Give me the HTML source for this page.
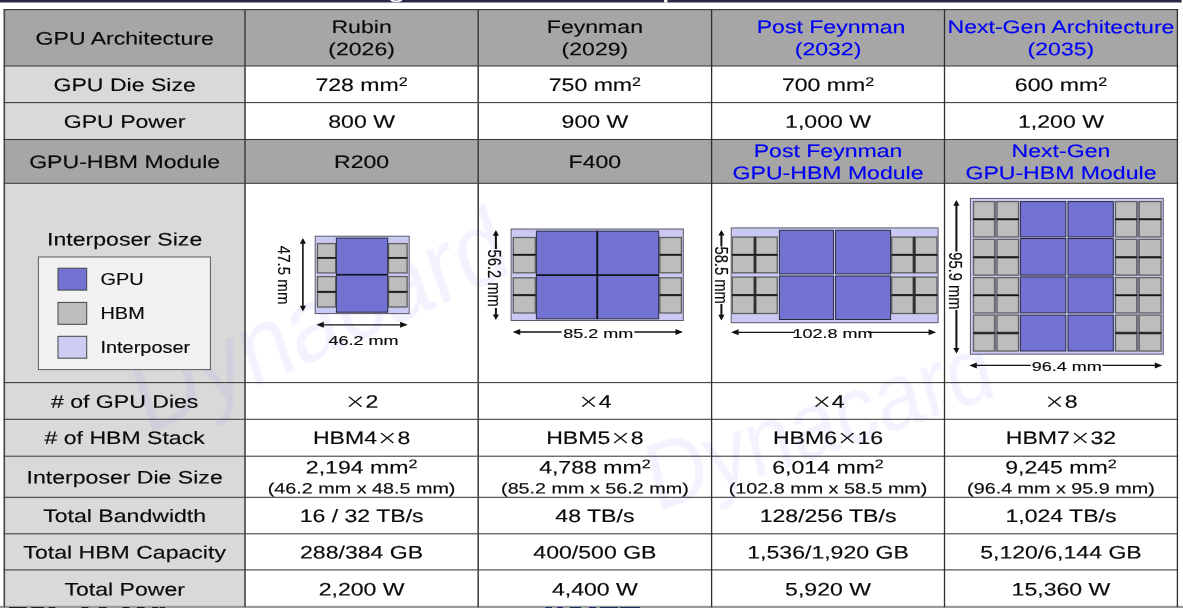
<!DOCTYPE html><html><head><meta charset="utf-8"><title>GPU-HBM Roadmap</title>
<style>html,body{margin:0;padding:0;background:#fff}svg{display:block}text{font-family:"Liberation Sans","Noto Sans CJK KR",sans-serif;stroke-width:.15px}</style></head><body>
<svg width="1183" height="608" viewBox="0 0 1183 608" fill="#0a0a0a" stroke="#0a0a0a" stroke-width="0">
<rect width="1183" height="608" fill="#fff"/>
<rect x="0" y="0" width="1181.6" height="2.5" fill="#2a2945"/>
<rect x="664.1" y="0" width="3.3" height="2.5" fill="#fff"/>
<path d="M390.4 0H402.2Q402 2.1 396.3 2.1Q390.6 2.1 390.4 0Z" fill="#fff"/><rect x="394" y="0" width="4.5" height="0.7" fill="#8a8a9a"/>
<rect x="4.30" y="9.60" width="1173.10" height="56.40" fill="#a6a6a6"/>
<rect x="4.30" y="66.00" width="240.70" height="36.60" fill="#d9d9d9"/>
<rect x="4.30" y="102.60" width="240.70" height="36.90" fill="#d9d9d9"/>
<rect x="4.30" y="139.50" width="1173.10" height="43.80" fill="#a6a6a6"/>
<rect x="4.30" y="183.30" width="240.70" height="199.30" fill="#d9d9d9"/>
<rect x="4.30" y="382.60" width="240.70" height="36.70" fill="#d9d9d9"/>
<rect x="4.30" y="419.30" width="240.70" height="36.90" fill="#d9d9d9"/>
<rect x="4.30" y="456.20" width="240.70" height="41.10" fill="#d9d9d9"/>
<rect x="4.30" y="497.30" width="240.70" height="36.50" fill="#d9d9d9"/>
<rect x="4.30" y="533.80" width="240.70" height="36.10" fill="#d9d9d9"/>
<rect x="4.30" y="569.90" width="240.70" height="36.70" fill="#d9d9d9"/>
<g fill="#7878ff" fill-opacity="0.09" stroke="none" font-size="106"><text transform="translate(146,435) scale(0.87,1) rotate(-21)">Dynacard</text><text font-size="96" transform="translate(656,512) scale(0.87,1) rotate(-16.5)">Dynacard</text></g>
<rect x="315.20" y="236.20" width="94.00" height="77.40" fill="#c9c9f3" stroke="#5a5a6a" stroke-width="1"/><rect x="317.50" y="243.60" width="18.10" height="14.00" fill="#bdbdbd" stroke="#606060" stroke-width="1.3"/><rect x="388.50" y="243.60" width="18.60" height="14.00" fill="#bdbdbd" stroke="#606060" stroke-width="1.3"/><rect x="317.50" y="258.20" width="18.10" height="14.70" fill="#bdbdbd" stroke="#606060" stroke-width="1.3"/><rect x="388.50" y="258.20" width="18.60" height="14.70" fill="#bdbdbd" stroke="#606060" stroke-width="1.3"/><rect x="317.50" y="276.60" width="18.10" height="14.80" fill="#bdbdbd" stroke="#606060" stroke-width="1.3"/><rect x="388.50" y="276.60" width="18.60" height="14.80" fill="#bdbdbd" stroke="#606060" stroke-width="1.3"/><rect x="317.50" y="292.40" width="18.10" height="14.60" fill="#bdbdbd" stroke="#606060" stroke-width="1.3"/><rect x="388.50" y="292.40" width="18.60" height="14.60" fill="#bdbdbd" stroke="#606060" stroke-width="1.3"/><rect x="317.00" y="257.15" width="19.10" height="1.5" fill="#151515"/><rect x="388.00" y="257.15" width="19.60" height="1.5" fill="#151515"/><rect x="317.00" y="291.15" width="19.10" height="1.5" fill="#151515"/><rect x="388.00" y="291.15" width="19.60" height="1.5" fill="#151515"/><rect x="336.40" y="238.10" width="51.30" height="36.60" fill="#7272d2" stroke="#2b2b40" stroke-width="1"/><rect x="336.40" y="274.70" width="51.30" height="37.50" fill="#7272d2" stroke="#2b2b40" stroke-width="1"/>
<rect x="336.4" y="273.9" width="51.3" height="1.6" fill="#14141e"/>
<path d="M302.90 240.10V309.40" stroke="#111" stroke-width="1.6" fill="none"/><path d="M302.90 238.10l-3.1 5.6h6.2z M302.90 311.40l-3.1 -5.6h6.2z" fill="#111"/>
<text transform="translate(277.70,275.10) rotate(90) scale(1.198,1.275)" text-anchor="middle" font-size="12.6">47.5 mm</text>
<path d="M318.30 324.80H405.60" stroke="#111" stroke-width="1.3" fill="none"/><path d="M316.30 324.80l7.5 -3.0v6.0z M407.60 324.80l-7.5 -3.0v6.0z" fill="#111"/>
<text transform="translate(363.40,345.20) scale(1.43,1)" text-anchor="middle" font-size="12.6">46.2 mm</text>
<rect x="511.10" y="229.00" width="172.20" height="91.50" fill="#c9c9f3" stroke="#5a5a6a" stroke-width="1"/><rect x="513.30" y="237.50" width="22.00" height="16.90" fill="#bdbdbd" stroke="#606060" stroke-width="1.3"/><rect x="659.80" y="237.50" width="21.60" height="16.90" fill="#bdbdbd" stroke="#606060" stroke-width="1.3"/><rect x="513.30" y="255.20" width="22.00" height="17.60" fill="#bdbdbd" stroke="#606060" stroke-width="1.3"/><rect x="659.80" y="255.20" width="21.60" height="17.60" fill="#bdbdbd" stroke="#606060" stroke-width="1.3"/><rect x="513.30" y="277.80" width="22.00" height="16.80" fill="#bdbdbd" stroke="#606060" stroke-width="1.3"/><rect x="659.80" y="277.80" width="21.60" height="16.80" fill="#bdbdbd" stroke="#606060" stroke-width="1.3"/><rect x="513.30" y="295.60" width="22.00" height="17.40" fill="#bdbdbd" stroke="#606060" stroke-width="1.3"/><rect x="659.80" y="295.60" width="21.60" height="17.40" fill="#bdbdbd" stroke="#606060" stroke-width="1.3"/><rect x="512.80" y="254.05" width="23.00" height="1.5" fill="#151515"/><rect x="659.30" y="254.05" width="22.60" height="1.5" fill="#151515"/><rect x="512.80" y="294.35" width="23.00" height="1.5" fill="#151515"/><rect x="659.30" y="294.35" width="22.60" height="1.5" fill="#151515"/><rect x="536.40" y="231.10" width="60.90" height="44.10" fill="#7272d2" stroke="#2b2b40" stroke-width="1"/><rect x="597.30" y="231.10" width="61.40" height="44.10" fill="#7272d2" stroke="#2b2b40" stroke-width="1"/><rect x="536.40" y="275.20" width="60.90" height="43.60" fill="#7272d2" stroke="#2b2b40" stroke-width="1"/><rect x="597.30" y="275.20" width="61.40" height="43.60" fill="#7272d2" stroke="#2b2b40" stroke-width="1"/>
<rect x="536.4" y="274.4" width="122.3" height="1.6" fill="#14141e"/><rect x="596.4" y="231.1" width="1.8" height="87.7" fill="#14141e"/>
<path d="M495.90 232.10V248.90M495.90 307.90V318.10" stroke="#111" stroke-width="2.0" fill="none"/><path d="M495.90 230.10l-3.1 5.6h6.2z M495.90 320.10l-3.1 -5.6h6.2z" fill="#111"/>
<text transform="translate(488.40,278.20) rotate(90) scale(1.17,1.45)" text-anchor="middle" font-size="12.6">56.2 mm</text>
<path d="M514.70 332.00H561.50M634.30 332.00H681.00" stroke="#111" stroke-width="1.3" fill="none"/><path d="M512.70 332.00l7.5 -3.0v6.0z M683.00 332.00l-7.5 -3.0v6.0z" fill="#111"/>
<text transform="translate(598.20,337.50) scale(1.43,1)" text-anchor="middle" font-size="12.6">85.2 mm</text>
<rect x="731.20" y="227.90" width="206.90" height="94.80" fill="#c9c9f3" stroke="#5a5a6a" stroke-width="1"/><rect x="732.30" y="237.10" width="21.80" height="17.30" fill="#bdbdbd" stroke="#606060" stroke-width="1.3"/><rect x="755.90" y="237.10" width="21.30" height="17.30" fill="#bdbdbd" stroke="#606060" stroke-width="1.3"/><rect x="891.70" y="237.10" width="21.40" height="17.30" fill="#bdbdbd" stroke="#606060" stroke-width="1.3"/><rect x="915.20" y="237.10" width="21.80" height="17.30" fill="#bdbdbd" stroke="#606060" stroke-width="1.3"/><rect x="732.30" y="255.30" width="21.80" height="17.50" fill="#bdbdbd" stroke="#606060" stroke-width="1.3"/><rect x="755.90" y="255.30" width="21.30" height="17.50" fill="#bdbdbd" stroke="#606060" stroke-width="1.3"/><rect x="891.70" y="255.30" width="21.40" height="17.50" fill="#bdbdbd" stroke="#606060" stroke-width="1.3"/><rect x="915.20" y="255.30" width="21.80" height="17.50" fill="#bdbdbd" stroke="#606060" stroke-width="1.3"/><rect x="732.30" y="277.10" width="21.80" height="17.50" fill="#bdbdbd" stroke="#606060" stroke-width="1.3"/><rect x="755.90" y="277.10" width="21.30" height="17.50" fill="#bdbdbd" stroke="#606060" stroke-width="1.3"/><rect x="891.70" y="277.10" width="21.40" height="17.50" fill="#bdbdbd" stroke="#606060" stroke-width="1.3"/><rect x="915.20" y="277.10" width="21.80" height="17.50" fill="#bdbdbd" stroke="#606060" stroke-width="1.3"/><rect x="732.30" y="295.60" width="21.80" height="17.90" fill="#bdbdbd" stroke="#606060" stroke-width="1.3"/><rect x="755.90" y="295.60" width="21.30" height="17.90" fill="#bdbdbd" stroke="#606060" stroke-width="1.3"/><rect x="891.70" y="295.60" width="21.40" height="17.90" fill="#bdbdbd" stroke="#606060" stroke-width="1.3"/><rect x="915.20" y="295.60" width="21.80" height="17.90" fill="#bdbdbd" stroke="#606060" stroke-width="1.3"/><rect x="753.90" y="236.60" width="2.2" height="36.70" fill="#303030"/><rect x="753.90" y="276.60" width="2.2" height="37.40" fill="#303030"/><rect x="913.05" y="236.60" width="2.2" height="36.70" fill="#303030"/><rect x="913.05" y="276.60" width="2.2" height="37.40" fill="#303030"/><rect x="731.80" y="254.10" width="22.80" height="1.5" fill="#151515"/><rect x="755.40" y="254.10" width="22.30" height="1.5" fill="#151515"/><rect x="891.20" y="254.10" width="22.40" height="1.5" fill="#151515"/><rect x="914.70" y="254.10" width="22.80" height="1.5" fill="#151515"/><rect x="731.80" y="294.35" width="22.80" height="1.5" fill="#151515"/><rect x="755.40" y="294.35" width="22.30" height="1.5" fill="#151515"/><rect x="891.20" y="294.35" width="22.40" height="1.5" fill="#151515"/><rect x="914.70" y="294.35" width="22.80" height="1.5" fill="#151515"/><rect x="779.40" y="230.30" width="54.10" height="43.60" fill="#7272d2" stroke="#2b2b40" stroke-width="1"/><rect x="835.60" y="230.30" width="55.00" height="43.60" fill="#7272d2" stroke="#2b2b40" stroke-width="1"/><rect x="779.40" y="276.00" width="54.10" height="43.50" fill="#7272d2" stroke="#2b2b40" stroke-width="1"/><rect x="835.60" y="276.00" width="55.00" height="43.50" fill="#7272d2" stroke="#2b2b40" stroke-width="1"/>
<path d="M721.40 231.90V246.40M721.40 303.90V318.40" stroke="#111" stroke-width="2.0" fill="none"/><path d="M721.40 229.90l-3.1 5.6h6.2z M721.40 320.40l-3.1 -5.6h6.2z" fill="#111"/>
<text transform="translate(714.60,275.20) rotate(90) scale(1.17,1.45)" text-anchor="middle" font-size="12.6">58.5 mm</text>
<path d="M733.10 332.30H795.00M868.00 332.30H934.10" stroke="#111" stroke-width="1.3" fill="none"/><path d="M731.10 332.30l7.5 -3.0v6.0z M936.10 332.30l-7.5 -3.0v6.0z" fill="#111"/>
<text transform="translate(832.40,338.00) scale(1.43,1)" text-anchor="middle" font-size="12.6">102.8 mm</text>
<rect x="970.40" y="198.40" width="192.90" height="155.80" fill="#c9c9f3" stroke="#5a5a6a" stroke-width="1"/><rect x="973.50" y="201.60" width="21.00" height="17.20" fill="#bdbdbd" stroke="#606060" stroke-width="1.3"/><rect x="997.00" y="201.60" width="21.50" height="17.20" fill="#bdbdbd" stroke="#606060" stroke-width="1.3"/><rect x="1115.50" y="201.60" width="21.20" height="17.20" fill="#bdbdbd" stroke="#606060" stroke-width="1.3"/><rect x="1139.20" y="201.60" width="21.90" height="17.20" fill="#bdbdbd" stroke="#606060" stroke-width="1.3"/><rect x="973.50" y="219.70" width="21.00" height="17.20" fill="#bdbdbd" stroke="#606060" stroke-width="1.3"/><rect x="997.00" y="219.70" width="21.50" height="17.20" fill="#bdbdbd" stroke="#606060" stroke-width="1.3"/><rect x="1115.50" y="219.70" width="21.20" height="17.20" fill="#bdbdbd" stroke="#606060" stroke-width="1.3"/><rect x="1139.20" y="219.70" width="21.90" height="17.20" fill="#bdbdbd" stroke="#606060" stroke-width="1.3"/><rect x="973.50" y="239.40" width="21.00" height="17.20" fill="#bdbdbd" stroke="#606060" stroke-width="1.3"/><rect x="997.00" y="239.40" width="21.50" height="17.20" fill="#bdbdbd" stroke="#606060" stroke-width="1.3"/><rect x="1115.50" y="239.40" width="21.20" height="17.20" fill="#bdbdbd" stroke="#606060" stroke-width="1.3"/><rect x="1139.20" y="239.40" width="21.90" height="17.20" fill="#bdbdbd" stroke="#606060" stroke-width="1.3"/><rect x="973.50" y="257.90" width="21.00" height="17.20" fill="#bdbdbd" stroke="#606060" stroke-width="1.3"/><rect x="997.00" y="257.90" width="21.50" height="17.20" fill="#bdbdbd" stroke="#606060" stroke-width="1.3"/><rect x="1115.50" y="257.90" width="21.20" height="17.20" fill="#bdbdbd" stroke="#606060" stroke-width="1.3"/><rect x="1139.20" y="257.90" width="21.90" height="17.20" fill="#bdbdbd" stroke="#606060" stroke-width="1.3"/><rect x="973.50" y="277.60" width="21.00" height="17.20" fill="#bdbdbd" stroke="#606060" stroke-width="1.3"/><rect x="997.00" y="277.60" width="21.50" height="17.20" fill="#bdbdbd" stroke="#606060" stroke-width="1.3"/><rect x="1115.50" y="277.60" width="21.20" height="17.20" fill="#bdbdbd" stroke="#606060" stroke-width="1.3"/><rect x="1139.20" y="277.60" width="21.90" height="17.20" fill="#bdbdbd" stroke="#606060" stroke-width="1.3"/><rect x="973.50" y="295.70" width="21.00" height="17.20" fill="#bdbdbd" stroke="#606060" stroke-width="1.3"/><rect x="997.00" y="295.70" width="21.50" height="17.20" fill="#bdbdbd" stroke="#606060" stroke-width="1.3"/><rect x="1115.50" y="295.70" width="21.20" height="17.20" fill="#bdbdbd" stroke="#606060" stroke-width="1.3"/><rect x="1139.20" y="295.70" width="21.90" height="17.20" fill="#bdbdbd" stroke="#606060" stroke-width="1.3"/><rect x="973.50" y="315.10" width="21.00" height="17.20" fill="#bdbdbd" stroke="#606060" stroke-width="1.3"/><rect x="997.00" y="315.10" width="21.50" height="17.20" fill="#bdbdbd" stroke="#606060" stroke-width="1.3"/><rect x="1115.50" y="315.10" width="21.20" height="17.20" fill="#bdbdbd" stroke="#606060" stroke-width="1.3"/><rect x="1139.20" y="315.10" width="21.90" height="17.20" fill="#bdbdbd" stroke="#606060" stroke-width="1.3"/><rect x="973.50" y="333.80" width="21.00" height="17.20" fill="#bdbdbd" stroke="#606060" stroke-width="1.3"/><rect x="997.00" y="333.80" width="21.50" height="17.20" fill="#bdbdbd" stroke="#606060" stroke-width="1.3"/><rect x="1115.50" y="333.80" width="21.20" height="17.20" fill="#bdbdbd" stroke="#606060" stroke-width="1.3"/><rect x="1139.20" y="333.80" width="21.90" height="17.20" fill="#bdbdbd" stroke="#606060" stroke-width="1.3"/><rect x="994.45" y="201.10" width="2.6" height="36.30" fill="#757580"/><rect x="994.45" y="238.90" width="2.6" height="36.70" fill="#757580"/><rect x="994.45" y="277.10" width="2.6" height="36.30" fill="#757580"/><rect x="994.45" y="314.60" width="2.6" height="36.90" fill="#757580"/><rect x="1136.65" y="201.10" width="2.6" height="36.30" fill="#757580"/><rect x="1136.65" y="238.90" width="2.6" height="36.70" fill="#757580"/><rect x="1136.65" y="277.10" width="2.6" height="36.30" fill="#757580"/><rect x="1136.65" y="314.60" width="2.6" height="36.90" fill="#757580"/><rect x="973.00" y="218.50" width="22.00" height="1.5" fill="#151515"/><rect x="996.50" y="218.50" width="22.50" height="1.5" fill="#151515"/><rect x="1115.00" y="218.50" width="22.20" height="1.5" fill="#151515"/><rect x="1138.70" y="218.50" width="22.90" height="1.5" fill="#151515"/><rect x="973.00" y="256.50" width="22.00" height="1.5" fill="#151515"/><rect x="996.50" y="256.50" width="22.50" height="1.5" fill="#151515"/><rect x="1115.00" y="256.50" width="22.20" height="1.5" fill="#151515"/><rect x="1138.70" y="256.50" width="22.90" height="1.5" fill="#151515"/><rect x="973.00" y="294.50" width="22.00" height="1.5" fill="#151515"/><rect x="996.50" y="294.50" width="22.50" height="1.5" fill="#151515"/><rect x="1115.00" y="294.50" width="22.20" height="1.5" fill="#151515"/><rect x="1138.70" y="294.50" width="22.90" height="1.5" fill="#151515"/><rect x="973.00" y="332.30" width="22.00" height="1.5" fill="#151515"/><rect x="996.50" y="332.30" width="22.50" height="1.5" fill="#151515"/><rect x="1115.00" y="332.30" width="22.20" height="1.5" fill="#151515"/><rect x="1138.70" y="332.30" width="22.90" height="1.5" fill="#151515"/><rect x="1020.40" y="201.60" width="45.40" height="35.30" fill="#7272d2" stroke="#2b2b40" stroke-width="1"/><rect x="1068.00" y="201.60" width="45.30" height="35.30" fill="#7272d2" stroke="#2b2b40" stroke-width="1"/><rect x="1020.40" y="238.50" width="45.40" height="36.60" fill="#7272d2" stroke="#2b2b40" stroke-width="1"/><rect x="1068.00" y="238.50" width="45.30" height="36.60" fill="#7272d2" stroke="#2b2b40" stroke-width="1"/><rect x="1020.40" y="276.90" width="45.40" height="36.00" fill="#7272d2" stroke="#2b2b40" stroke-width="1"/><rect x="1068.00" y="276.90" width="45.30" height="36.00" fill="#7272d2" stroke="#2b2b40" stroke-width="1"/><rect x="1020.40" y="315.10" width="45.40" height="35.90" fill="#7272d2" stroke="#2b2b40" stroke-width="1"/><rect x="1068.00" y="315.10" width="45.30" height="35.90" fill="#7272d2" stroke="#2b2b40" stroke-width="1"/>
<path d="M956.40 202.10V251.40M956.40 310.00V351.50" stroke="#111" stroke-width="2.0" fill="none"/><path d="M956.40 200.10l-3.1 5.6h6.2z M956.40 353.50l-3.1 -5.6h6.2z" fill="#111"/>
<text transform="translate(948.80,281.00) rotate(90) scale(1.17,1.45)" text-anchor="middle" font-size="12.6">95.9 mm</text>
<path d="M971.30 365.40H1030.70M1102.30 365.40H1160.30" stroke="#111" stroke-width="1.3" fill="none"/><path d="M969.30 365.40l7.5 -3.0v6.0z M1162.30 365.40l-7.5 -3.0v6.0z" fill="#111"/>
<text transform="translate(1066.70,371.00) scale(1.43,1)" text-anchor="middle" font-size="12.6">96.4 mm</text>
<rect x="3.60" y="65.48" width="1174.50" height="1.04" fill="#383838"/>
<rect x="3.60" y="102.08" width="1174.50" height="1.04" fill="#383838"/>
<rect x="3.60" y="138.98" width="1174.50" height="1.04" fill="#383838"/>
<rect x="3.60" y="182.78" width="1174.50" height="1.04" fill="#383838"/>
<rect x="3.60" y="382.08" width="1174.50" height="1.04" fill="#383838"/>
<rect x="3.60" y="418.78" width="1174.50" height="1.04" fill="#383838"/>
<rect x="3.60" y="455.68" width="1174.50" height="1.04" fill="#383838"/>
<rect x="3.60" y="496.78" width="1174.50" height="1.04" fill="#383838"/>
<rect x="3.60" y="533.28" width="1174.50" height="1.04" fill="#383838"/>
<rect x="3.60" y="569.38" width="1174.50" height="1.04" fill="#383838"/>
<rect x="3.60" y="9.00" width="1174.50" height="1.2" fill="#3c3c3c"/>
<rect x="0" y="605.8" width="1183" height="2.4" fill="#9a9a9a"/>
<rect x="3.50" y="9.00" width="1.6" height="598.20" fill="#444"/>
<rect x="244.20" y="9.00" width="1.6" height="598.20" fill="#444"/>
<rect x="477.40" y="9.00" width="1.6" height="598.20" fill="#444"/>
<rect x="710.95" y="9.00" width="1.3" height="598.20" fill="#2e2e2e"/>
<rect x="943.85" y="9.00" width="1.3" height="598.20" fill="#2e2e2e"/>
<rect x="1176.75" y="9.00" width="1.3" height="598.20" fill="#2e2e2e"/>
<text transform="translate(124.65,44.60) rotate(0.03) scale(1.282,1)" text-anchor="middle" font-size="18">GPU Architecture</text>
<text transform="translate(361.60,33.10) rotate(0.03) scale(1.282,1)" text-anchor="middle" font-size="18">Rubin</text>
<text transform="translate(361.60,55.20) rotate(0.03) scale(1.282,1)" text-anchor="middle" font-size="18">(2026)</text>
<text transform="translate(594.90,33.10) rotate(0.03) scale(1.282,1)" text-anchor="middle" font-size="18">Feynman</text>
<text transform="translate(594.90,55.20) rotate(0.03) scale(1.282,1)" text-anchor="middle" font-size="18">(2029)</text>
<text transform="translate(831.05,33.10) rotate(0.03) scale(1.282,1)" text-anchor="middle" font-size="18" fill="#0000f4" stroke="#0000f4">Post Feynman</text>
<text transform="translate(828.05,55.20) rotate(0.03) scale(1.282,1)" text-anchor="middle" font-size="18" fill="#0000f4" stroke="#0000f4">(2032)</text>
<text transform="translate(1060.95,33.10) rotate(0.03) scale(1.282,1)" text-anchor="middle" font-size="18" fill="#0000f4" stroke="#0000f4">Next-Gen Architecture</text>
<text transform="translate(1060.95,55.20) rotate(0.03) scale(1.282,1)" text-anchor="middle" font-size="18" fill="#0000f4" stroke="#0000f4">(2035)</text>
<text transform="translate(124.65,91.10) rotate(0.03) scale(1.282,1)" text-anchor="middle" font-size="18">GPU Die Size</text>
<text transform="translate(361.60,91.10) rotate(0.03) scale(1.282,1)" text-anchor="middle" font-size="18">728 mm<tspan dy="-5.2" font-size="12.6">2</tspan></text>
<text transform="translate(594.90,91.10) rotate(0.03) scale(1.282,1)" text-anchor="middle" font-size="18">750 mm<tspan dy="-5.2" font-size="12.6">2</tspan></text>
<text transform="translate(828.05,91.10) rotate(0.03) scale(1.282,1)" text-anchor="middle" font-size="18">700 mm<tspan dy="-5.2" font-size="12.6">2</tspan></text>
<text transform="translate(1060.95,91.10) rotate(0.03) scale(1.282,1)" text-anchor="middle" font-size="18">600 mm<tspan dy="-5.2" font-size="12.6">2</tspan></text>
<text transform="translate(124.65,127.80) rotate(0.03) scale(1.282,1)" text-anchor="middle" font-size="18">GPU Power</text>
<text transform="translate(361.60,127.80) rotate(0.03) scale(1.282,1)" text-anchor="middle" font-size="18">800 W</text>
<text transform="translate(594.90,127.80) rotate(0.03) scale(1.282,1)" text-anchor="middle" font-size="18">900 W</text>
<text transform="translate(828.05,127.80) rotate(0.03) scale(1.282,1)" text-anchor="middle" font-size="18">1,000 W</text>
<text transform="translate(1060.95,127.80) rotate(0.03) scale(1.282,1)" text-anchor="middle" font-size="18">1,200 W</text>
<text transform="translate(124.65,168.00) rotate(0.03) scale(1.282,1)" text-anchor="middle" font-size="18">GPU-HBM Module</text>
<text transform="translate(361.60,168.00) rotate(0.03) scale(1.282,1)" text-anchor="middle" font-size="18">R200</text>
<text transform="translate(594.90,168.00) rotate(0.03) scale(1.282,1)" text-anchor="middle" font-size="18">F400</text>
<text transform="translate(828.05,157.00) rotate(0.03) scale(1.282,1)" text-anchor="middle" font-size="18" fill="#0000f4" stroke="#0000f4">Post Feynman</text>
<text transform="translate(828.05,179.00) rotate(0.03) scale(1.282,1)" text-anchor="middle" font-size="18" fill="#0000f4" stroke="#0000f4">GPU-HBM Module</text>
<text transform="translate(1060.95,157.00) rotate(0.03) scale(1.282,1)" text-anchor="middle" font-size="18" fill="#0000f4" stroke="#0000f4">Next-Gen</text>
<text transform="translate(1060.95,179.00) rotate(0.03) scale(1.282,1)" text-anchor="middle" font-size="18" fill="#0000f4" stroke="#0000f4">GPU-HBM Module</text>
<text transform="translate(124.65,245.50) rotate(0.03) scale(1.282,1)" text-anchor="middle" font-size="18">Interposer Size</text>
<rect x="38.40" y="257.00" width="172.00" height="112.60" fill="#f2f2f2" stroke="#5a5a5a" stroke-width="1"/>
<rect x="58.00" y="268.20" width="28.70" height="21.90" fill="#7272d2" stroke="#444" stroke-width="1"/>
<text transform="translate(100.5,285.0) scale(1.245,1)" font-size="16">GPU</text>
<rect x="58.00" y="302.40" width="28.70" height="21.90" fill="#bdbdbd" stroke="#444" stroke-width="1"/>
<text transform="translate(100.5,319.4) scale(1.245,1)" font-size="16">HBM</text>
<rect x="58.00" y="336.30" width="28.70" height="21.90" fill="#cdcdf4" stroke="#444" stroke-width="1"/>
<text transform="translate(100.5,353.4) scale(1.245,1)" font-size="16">Interposer</text>
<text transform="translate(124.65,407.80) rotate(0.03) scale(1.282,1)" text-anchor="middle" font-size="18"># of GPU Dies</text>
<text transform="translate(361.60,407.80) rotate(0.03) scale(1.282,1)" text-anchor="middle" font-size="18"><tspan font-family="Noto Sans CJK KR" font-size="16" stroke-width="0.1">×</tspan>2</text>
<text transform="translate(594.90,407.80) rotate(0.03) scale(1.282,1)" text-anchor="middle" font-size="18"><tspan font-family="Noto Sans CJK KR" font-size="16" stroke-width="0.1">×</tspan>4</text>
<text transform="translate(828.05,407.80) rotate(0.03) scale(1.282,1)" text-anchor="middle" font-size="18"><tspan font-family="Noto Sans CJK KR" font-size="16" stroke-width="0.1">×</tspan>4</text>
<text transform="translate(1060.95,407.80) rotate(0.03) scale(1.282,1)" text-anchor="middle" font-size="18"><tspan font-family="Noto Sans CJK KR" font-size="16" stroke-width="0.1">×</tspan>8</text>
<text transform="translate(124.65,444.00) rotate(0.03) scale(1.282,1)" text-anchor="middle" font-size="18"># of HBM Stack</text>
<text transform="translate(361.60,444.00) rotate(0.03) scale(1.282,1)" text-anchor="middle" font-size="18">HBM4<tspan font-family="Noto Sans CJK KR" font-size="16" stroke-width="0.1">×</tspan>8</text>
<text transform="translate(594.90,444.00) rotate(0.03) scale(1.282,1)" text-anchor="middle" font-size="18">HBM5<tspan font-family="Noto Sans CJK KR" font-size="16" stroke-width="0.1">×</tspan>8</text>
<text transform="translate(828.05,444.00) rotate(0.03) scale(1.282,1)" text-anchor="middle" font-size="18">HBM6<tspan font-family="Noto Sans CJK KR" font-size="16" stroke-width="0.1">×</tspan>16</text>
<text transform="translate(1060.95,444.00) rotate(0.03) scale(1.282,1)" text-anchor="middle" font-size="18">HBM7<tspan font-family="Noto Sans CJK KR" font-size="16" stroke-width="0.1">×</tspan>32</text>
<text transform="translate(124.65,483.50) rotate(0.03) scale(1.282,1)" text-anchor="middle" font-size="18">Interposer Die Size</text>
<text transform="translate(361.60,473.50) rotate(0.03) scale(1.282,1)" text-anchor="middle" font-size="18">2,194 mm<tspan dy="-5.2" font-size="12.6">2</tspan></text>
<text transform="translate(361.60,493.50) rotate(0.03) scale(1.318,1)" text-anchor="middle" font-size="15">(46.2 mm x 48.5 mm)</text>
<text transform="translate(594.90,473.50) rotate(0.03) scale(1.282,1)" text-anchor="middle" font-size="18">4,788 mm<tspan dy="-5.2" font-size="12.6">2</tspan></text>
<text transform="translate(594.90,493.50) rotate(0.03) scale(1.318,1)" text-anchor="middle" font-size="15">(85.2 mm x 56.2 mm)</text>
<text transform="translate(828.05,473.50) rotate(0.03) scale(1.282,1)" text-anchor="middle" font-size="18">6,014 mm<tspan dy="-5.2" font-size="12.6">2</tspan></text>
<text transform="translate(828.05,493.50) rotate(0.03) scale(1.318,1)" text-anchor="middle" font-size="15">(102.8 mm x 58.5 mm)</text>
<text transform="translate(1060.95,473.50) rotate(0.03) scale(1.282,1)" text-anchor="middle" font-size="18">9,245 mm<tspan dy="-5.2" font-size="12.6">2</tspan></text>
<text transform="translate(1060.95,493.50) rotate(0.03) scale(1.318,1)" text-anchor="middle" font-size="15">(96.4 mm x 95.9 mm)</text>
<text transform="translate(124.65,522.00) rotate(0.03) scale(1.282,1)" text-anchor="middle" font-size="18">Total Bandwidth</text>
<text transform="translate(361.60,522.00) rotate(0.03) scale(1.282,1)" text-anchor="middle" font-size="18">16 / 32 TB/s</text>
<text transform="translate(594.90,522.00) rotate(0.03) scale(1.282,1)" text-anchor="middle" font-size="18">48 TB/s</text>
<text transform="translate(828.05,522.00) rotate(0.03) scale(1.282,1)" text-anchor="middle" font-size="18">128/256 TB/s</text>
<text transform="translate(1060.95,522.00) rotate(0.03) scale(1.282,1)" text-anchor="middle" font-size="18">1,024 TB/s</text>
<text transform="translate(124.65,558.50) rotate(0.03) scale(1.282,1)" text-anchor="middle" font-size="18">Total HBM Capacity</text>
<text transform="translate(361.60,558.50) rotate(0.03) scale(1.282,1)" text-anchor="middle" font-size="18">288/384 GB</text>
<text transform="translate(594.90,558.50) rotate(0.03) scale(1.282,1)" text-anchor="middle" font-size="18">400/500 GB</text>
<text transform="translate(828.05,558.50) rotate(0.03) scale(1.282,1)" text-anchor="middle" font-size="18">1,536/1,920 GB</text>
<text transform="translate(1060.95,558.50) rotate(0.03) scale(1.282,1)" text-anchor="middle" font-size="18">5,120/6,144 GB</text>
<text transform="translate(124.65,595.60) rotate(0.03) scale(1.282,1)" text-anchor="middle" font-size="18">Total Power</text>
<text transform="translate(361.60,595.60) rotate(0.03) scale(1.282,1)" text-anchor="middle" font-size="18">2,200 W</text>
<text transform="translate(594.90,595.60) rotate(0.03) scale(1.282,1)" text-anchor="middle" font-size="18">4,400 W</text>
<text transform="translate(828.05,595.60) rotate(0.03) scale(1.282,1)" text-anchor="middle" font-size="18">5,920 W</text>
<text transform="translate(1060.95,595.60) rotate(0.03) scale(1.282,1)" text-anchor="middle" font-size="18">15,360 W</text>
<rect x="9.1" y="607" width="17.5" height="1" fill="#1c1c1c"/>
<rect x="31.2" y="607" width="12.9" height="1" fill="#1c1c1c"/>
<rect x="48.7" y="607" width="6.8" height="1" fill="#1c1c1c"/>
<rect x="81.4" y="607" width="6.9" height="1" fill="#1c1c1c"/>
<rect x="98.9" y="607" width="7.6" height="1" fill="#1c1c1c"/>
<rect x="122.5" y="607" width="6.9" height="1" fill="#1c1c1c"/>
<rect x="137" y="607" width="7.6" height="1" fill="#1c1c1c"/>
<rect x="152.2" y="607" width="6.1" height="1" fill="#1c1c1c"/>
<rect x="159.8" y="607" width="5.3" height="1" fill="#1c1c1c"/>
<rect x="545.4" y="607" width="6.6" height="1" fill="#10305f"/>
<rect x="557" y="607" width="6.0" height="1" fill="#10305f"/>
<rect x="570" y="607" width="11.0" height="1" fill="#10305f"/>
<rect x="589" y="607" width="7.0" height="1" fill="#10305f"/>
<rect x="599.8" y="607" width="18.2" height="1" fill="#10305f"/>
<rect x="620" y="607" width="20.0" height="1" fill="#10305f"/>
</svg></body></html>
